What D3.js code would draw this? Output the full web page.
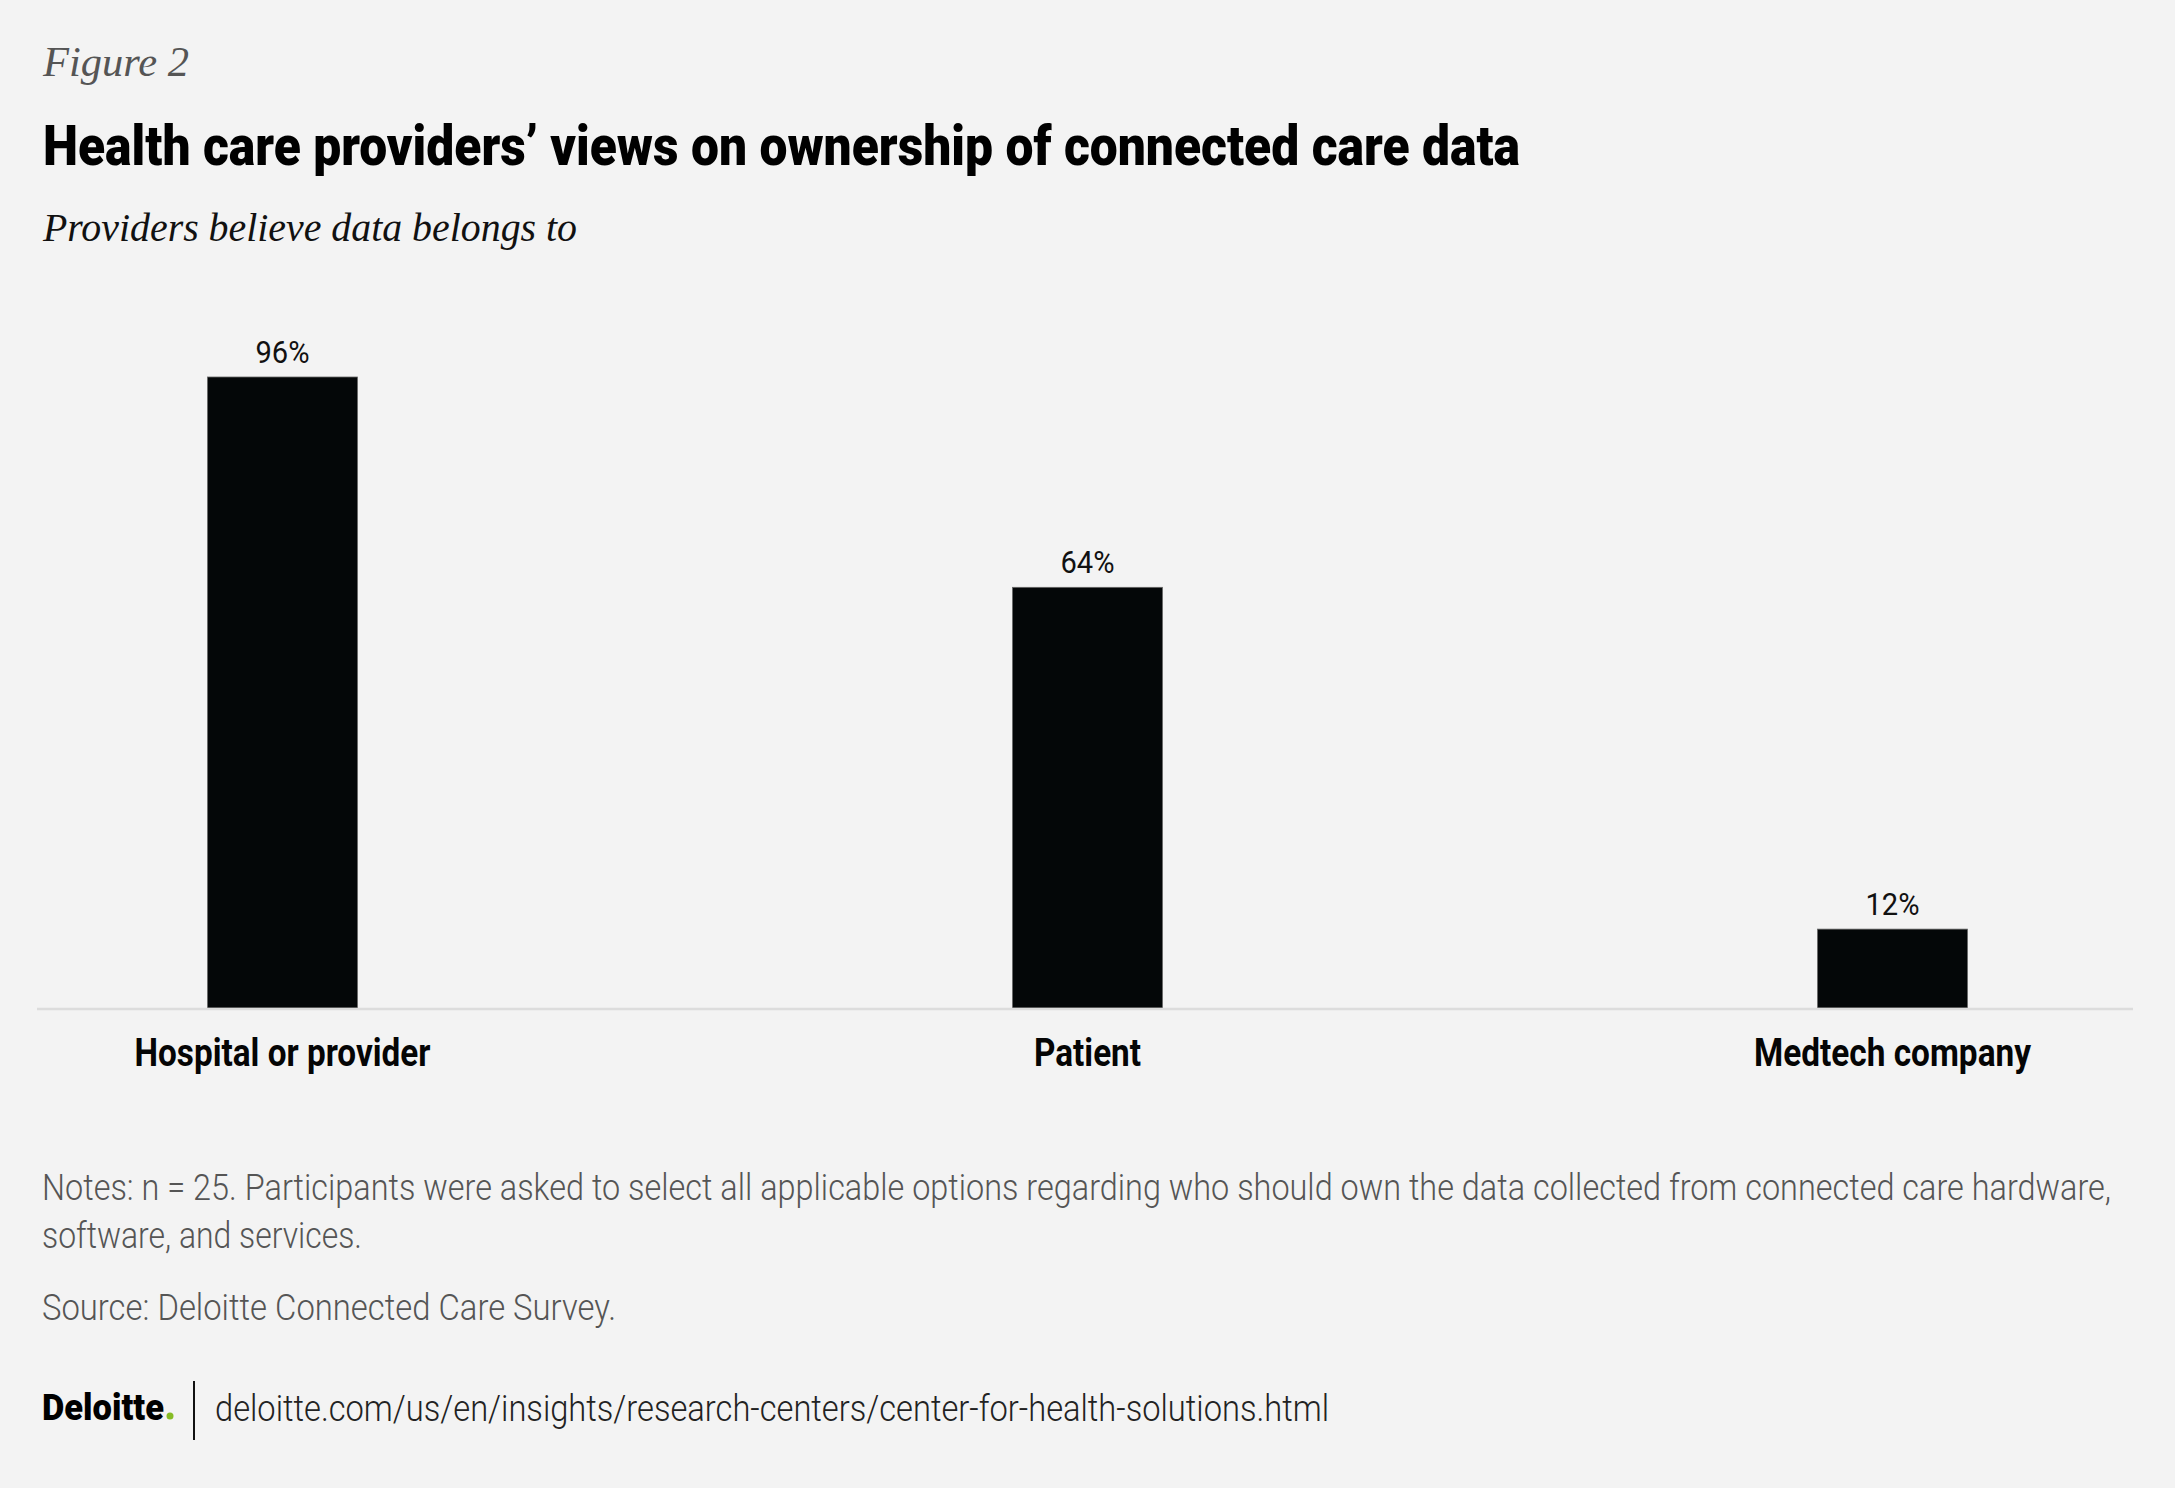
<!DOCTYPE html>
<html>
<head>
<meta charset="utf-8">
<script src="https://cdn.jsdelivr.net/npm/d3@7"></script>
<style>
  html, body { margin: 0; padding: 0; background: #f3f3f3; }
  svg { display: block; }
</style>
</head>
<body>
<svg id="chart" width="2175" height="1488"></svg>
<script>
// ---- Data ----
const categories = ["Hospital or provider", "Patient", "Medtech company"];
const values = [96, 64, 12];
const valueLabels = ["96%", "64%", "12%"];

const figureLabel = "Figure 2";
const titleText = "Health care providers’ views on ownership of connected care data";
const subtitleText = "Providers believe data belongs to";
const notesLines = [
  "Notes: n = 25. Participants were asked to select all applicable options regarding who should own the data collected from connected care hardware,",
  "software, and services."
];
const sourceText = "Source: Deloitte Connected Care Survey.";
const brandText = "Deloitte";
const urlText = "deloitte.com/us/en/insights/research-centers/center-for-health-solutions.html";

// ---- Layout ----
const W = 2175, H = 1488;
const svg = d3.select("#chart").attr("width", W).attr("height", H);
svg.append("rect").attr("width", W).attr("height", H).attr("fill", "#f3f3f3");

const plot = { left: 37, right: 2133, top: 377, bottom: 1008 };

const x = d3.scaleBand()
  .domain(categories)
  .range([42, plot.right])
  .paddingInner(0.8137)
  .paddingOuter(0.2056);

const y = d3.scaleLinear()
  .domain([0, 96])
  .range([plot.bottom, plot.top]);

// Header
svg.append("text")
  .attr("x", 43).attr("y", 76)
  .attr("font-family", "Liberation Serif, serif")
  .attr("font-style", "italic")
  .attr("font-size", 42)
  .attr("fill", "#555")
  .attr("textLength", 146).attr("lengthAdjust", "spacingAndGlyphs")
  .text(figureLabel);

svg.append("text")
  .attr("x", 43).attr("y", 165)
  .attr("font-family", "Roboto, sans-serif")
  .attr("font-weight", 900)
  .attr("font-size", 55)
  .attr("fill", "#000")
  .attr("textLength", 1477).attr("lengthAdjust", "spacingAndGlyphs")
  .text(titleText);

svg.append("text")
  .attr("x", 43).attr("y", 241)
  .attr("font-family", "Liberation Serif, serif")
  .attr("font-style", "italic")
  .attr("font-size", 41)
  .attr("fill", "#111")
  .attr("textLength", 534).attr("lengthAdjust", "spacingAndGlyphs")
  .text(subtitleText);

// Bars
const data = categories.map((c, i) => ({ c, v: values[i], label: valueLabels[i] }));

svg.append("g").selectAll("rect")
  .data(data)
  .join("rect")
  .attr("x", d => x(d.c))
  .attr("width", x.bandwidth())
  .attr("y", d => y(d.v))
  .attr("height", d => y(0) - y(d.v))
  .attr("fill", "#040708")
  .attr("stroke", "#666")
  .attr("stroke-width", 0.8);

// Baseline
svg.append("line")
  .attr("x1", plot.left).attr("x2", plot.right)
  .attr("y1", y(0) + 1).attr("y2", y(0) + 1)
  .attr("stroke", "#dcdcdc")
  .attr("stroke-width", 2.5);

// Value labels
svg.append("g").selectAll("text")
  .data(data)
  .join("text")
  .attr("x", d => x(d.c) + x.bandwidth() / 2)
  .attr("y", d => y(d.v) - 14)
  .attr("text-anchor", "middle")
  .attr("font-family", "Roboto, sans-serif")
  .attr("font-size", 32)
  .attr("fill", "#111")
  .attr("textLength", 54).attr("lengthAdjust", "spacingAndGlyphs")
  .text(d => d.label);

// Category axis
const xAxis = d3.axisBottom(x).tickSize(0).tickPadding(0);
const axisG = svg.append("g")
  .attr("transform", `translate(0, ${plot.bottom})`)
  .call(xAxis);
axisG.select(".domain").remove();
const catWidths = { "Hospital or provider": 296, "Patient": 107, "Medtech company": 277 };
axisG.selectAll(".tick text")
  .attr("y", 58)
  .attr("dy", 0)
  .attr("font-family", "Roboto, sans-serif")
  .attr("font-weight", 700)
  .attr("font-size", 39)
  .attr("fill", "#050505")
  .attr("textLength", d => catWidths[d])
  .attr("lengthAdjust", "spacingAndGlyphs");

// Notes
const noteWidths = [2069, 320];
svg.append("g").selectAll("text")
  .data(notesLines)
  .join("text")
  .attr("x", 42)
  .attr("y", (d, i) => 1200 + i * 48)
  .attr("font-family", "Roboto, sans-serif")
  .attr("font-weight", 300)
  .attr("font-size", 37)
  .attr("fill", "#555")
  .attr("textLength", (d, i) => noteWidths[i])
  .attr("lengthAdjust", "spacingAndGlyphs")
  .text(d => d);

svg.append("text")
  .attr("x", 42).attr("y", 1320)
  .attr("font-family", "Roboto, sans-serif")
  .attr("font-weight", 300)
  .attr("font-size", 37)
  .attr("fill", "#555")
  .attr("textLength", 574).attr("lengthAdjust", "spacingAndGlyphs")
  .text(sourceText);

// Footer
svg.append("text")
  .attr("x", 42).attr("y", 1420)
  .attr("font-family", "Roboto, sans-serif")
  .attr("font-weight", 900)
  .attr("font-size", 36)
  .attr("fill", "#000")
  .attr("textLength", 122).attr("lengthAdjust", "spacingAndGlyphs")
  .text(brandText);

svg.append("circle")
  .attr("cx", 170).attr("cy", 1416).attr("r", 3.5)
  .attr("fill", "#86bc25");

svg.append("line")
  .attr("x1", 194).attr("x2", 194)
  .attr("y1", 1381).attr("y2", 1440)
  .attr("stroke", "#111").attr("stroke-width", 2);

svg.append("text")
  .attr("x", 215).attr("y", 1421)
  .attr("font-family", "Roboto, sans-serif")
  .attr("font-weight", 300)
  .attr("font-size", 37)
  .attr("fill", "#222")
  .attr("textLength", 1114).attr("lengthAdjust", "spacingAndGlyphs")
  .text(urlText);
</script>
</body>
</html>
